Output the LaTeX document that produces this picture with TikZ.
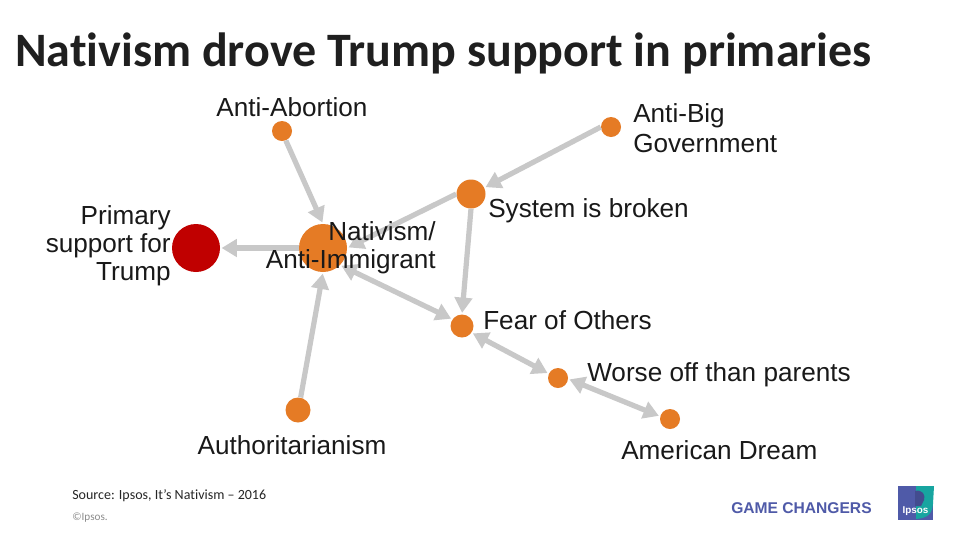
\documentclass[tikz,border=0pt]{standalone}
\usepackage{fontspec}
\setmainfont{Liberation Sans}
\newfontfamily\carlito[Ligatures=NoCommon]{Carlito}
\usetikzlibrary{arrows.meta}
\definecolor{edgegray}{HTML}{C8C8C8}
\definecolor{nodeor}{HTML}{E57B25}
\definecolor{nodered}{HTML}{C00000}
\definecolor{ipblue}{HTML}{4F5AA8}
\definecolor{ipteal}{HTML}{17A5A0}
\tikzset{
  x=0.75pt,y=-0.75pt,
  dot/.style={circle,fill=nodeor,draw=none,inner sep=0pt,minimum size=#1*0.75pt},
  rdot/.style={circle,fill=nodered,draw=none,inner sep=0pt,minimum size=#1*0.75pt},
  lbl/.style={font=\fontsize{19.6}{21}\selectfont,text=black!90,inner sep=0pt,align=center},
  edge/.style={draw=edgegray,line width=3.9pt,shorten >=1pt,shorten <=0pt,-{Triangle[length=11.5pt,width=13pt]}},
  biedge/.style={draw=edgegray,line width=3.9pt,shorten >=1pt,shorten <=1pt,{Triangle[length=11.5pt,width=13pt]}-{Triangle[length=11.5pt,width=13pt]}},
}
\begin{document}
\begin{tikzpicture}
\useasboundingbox (0,0) rectangle (960,540);
\fill[white] (0,0) rectangle (960,540);
\node[anchor=west,inner sep=0pt,font=\carlito\bfseries\fontsize{36}{42}\selectfont,text=black!88] (title) at (15,53) {Nativism drove Trump support in primaries};
\node[dot=20] (abort) at (282,131) {};
\node[dot=20] (big) at (611,127) {};
\node[dot=29] (sys) at (471,194) {};
\node[dot=48] (nat) at (323,248) {};
\node[rdot=48] (prim) at (196,248) {};
\node[dot=23] (fear) at (462,326) {};
\node[dot=20] (worse) at (558,378) {};
\node[dot=20] (dream) at (670,419) {};
\node[dot=25] (auth) at (298,410) {};
\draw[edge] (abort.-68) -- (nat.north);
\draw[edge] (big.west) -- (sys.25);
\draw[edge] (sys.west) -- (nat.east);
\draw[edge] (sys.south) -- (fear.north);
\draw[biedge] (nat.-45) -- (fear.145);
\draw[biedge] (fear.-35) -- (worse.155);
\draw[biedge] (worse.-5) -- (dream.165);
\draw[edge] (auth.78) -- (nat.south);
\draw[edge] (nat.west) -- (prim.east);
\node[lbl] (labort) at (292,107) {Anti-Abortion};
\node[lbl,align=left,anchor=west] (lbig) at (633,128) {Anti-Big\\[1.5pt]Government};
\node[lbl,anchor=west] (lsys) at (488,211) {System is broken};
\node[lbl,align=right,anchor=east] (lnat) at (436,248) {Nativism/\\Anti-Immigrant};
\node[lbl,align=right,anchor=east] (lprim) at (171,246) {Primary\\support for\\Trump};
\node[lbl,anchor=west] (lfear) at (483,320) {Fear of Others};
\node[lbl,anchor=west] (lworse) at (587,375) {Worse off than parents};
\node[lbl,anchor=west] (ldream) at (621,450) {American Dream};
\node[lbl] (lauth) at (292,445) {Authoritarianism};
\node[anchor=west,inner sep=0pt,font=\carlito\fontsize{10.5}{12}\selectfont,text=black!85] (src) at (72,496) {Source: Ipsos, It’s Nativism – 2016};
\node[anchor=west,inner sep=0pt,font=\carlito\fontsize{8.4}{10}\selectfont,text=black!45] (copy) at (72,518) {©Ipsos.};
\node[anchor=west,inner sep=0pt,font=\bfseries\fontsize{11.7}{14}\selectfont,text=ipblue] (gc) at (731,508) {GAME CHANGERS};
\fill[ipblue] (898,486) rectangle (933,520);
\fill[ipteal] (916,486) -- (934,486) -- (933,504) .. controls (932,514) and (928,518) .. (916,519) -- cycle;
\fill[ipblue!85!black] (915,491) .. controls (922,489) and (926,495) .. (924,500) -- (921,506) -- (915,506) -- cycle;
\node[inner sep=0pt,font=\bfseries\fontsize{7.4}{10}\selectfont,text=white] (ipsos) at (915.5,511) {Ipsos};
\end{tikzpicture}
\end{document}
